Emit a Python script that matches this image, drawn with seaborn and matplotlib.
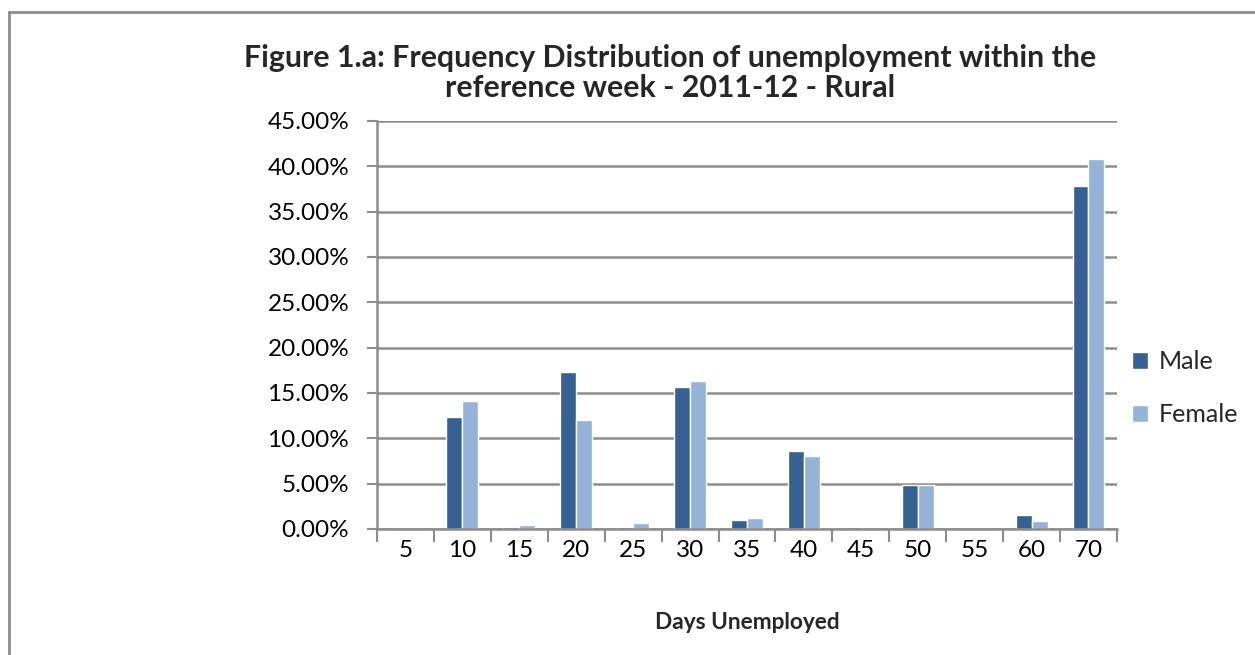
import matplotlib
matplotlib.use("Agg")
import matplotlib.pyplot as plt
from matplotlib.ticker import FuncFormatter, FixedLocator
from matplotlib.lines import Line2D
import seaborn as sns
import pandas as pd

days = ["5", "10", "15", "20", "25", "30", "35", "40", "45", "50", "55", "60", "70"]
male = [0.0, 12.3, 0.2, 17.3, 0.25, 15.7, 1.0, 8.6, 0.2, 4.8, 0.05, 1.5, 37.8]
female = [0.0, 14.1, 0.45, 12.0, 0.7, 16.3, 1.2, 8.1, 0.05, 4.9, 0.02, 0.85, 40.8]
series = ["Male", "Female"]
colors = ["#376092", "#95B3D7"]

df = pd.DataFrame({
    "Days": days * 2,
    "Value": male + female,
    "Sex": ["Male"] * len(days) + ["Female"] * len(days),
})

sns.set_theme(style="white")
plt.rcParams["font.family"] = ["Lato", "DejaVu Sans"]

fig = plt.figure(figsize=(12.55, 6.55), dpi=100)
ax = fig.add_axes([0.3004, 0.1924, 0.5896, 0.6229])

sns.barplot(data=df, x="Days", y="Value", hue="Sex", order=days,
            hue_order=series, palette=colors, width=0.56, ax=ax,
            saturation=1, errorbar=None, legend=True)

ax.set_xlim(-0.5, len(days) - 0.5)
ax.set_ylim(0, 45)
ax.set_yticks(range(0, 46, 5))
ax.yaxis.set_major_formatter(FuncFormatter(lambda v, p: f"{v:.2f}%"))
grid_c = "#8c8c8c"
ax.yaxis.grid(True, color=grid_c, linewidth=1.8)
ax.set_axisbelow(True)
for s in ["top", "right"]:
    ax.spines[s].set_visible(False)
for s in ["left", "bottom"]:
    ax.spines[s].set_color(grid_c)
    ax.spines[s].set_linewidth(1.8)

ax.tick_params(axis="y", which="major", length=7, width=1.5, color=grid_c,
               direction="out", left=True, labelsize=17.5, pad=13, labelcolor="black")
ax.tick_params(axis="x", which="major", length=0, labelsize=17.5, pad=8, labelcolor="black")
ax.xaxis.set_minor_locator(FixedLocator([i - 0.5 for i in range(len(days) + 1)]))
ax.tick_params(axis="x", which="minor", length=9, width=1.5, color=grid_c,
               direction="out", bottom=True)

ax.set_xlabel("Days Unemployed", fontsize=16.3, fontweight="bold", labelpad=37)
ax.set_ylabel("")

ax.legend(loc="center left", bbox_to_anchor=(0.99, 0.3456), frameon=False,
          fontsize=18, handlelength=0.65, handleheight=0.65, labelspacing=1.2,
          handletextpad=0.4)

fig.text(0.534, 0.911, "Figure 1.a: Frequency Distribution of unemployment within the",
         ha="center", va="center", fontsize=21.8, fontweight="bold")
fig.text(0.534, 0.866, "reference week - 2011-12 - Rural",
         ha="center", va="center", fontsize=21.8, fontweight="bold")

# chart border (left and top visible)
fig.add_artist(Line2D([0.0068, 0.0068], [0.0, 0.982], transform=fig.transFigure,
                      color="#8c8c8c", linewidth=2))
fig.add_artist(Line2D([0.0068, 1.0], [0.982, 0.982], transform=fig.transFigure,
                      color="#8c8c8c", linewidth=2))

fig.savefig("out.png", dpi=100)
